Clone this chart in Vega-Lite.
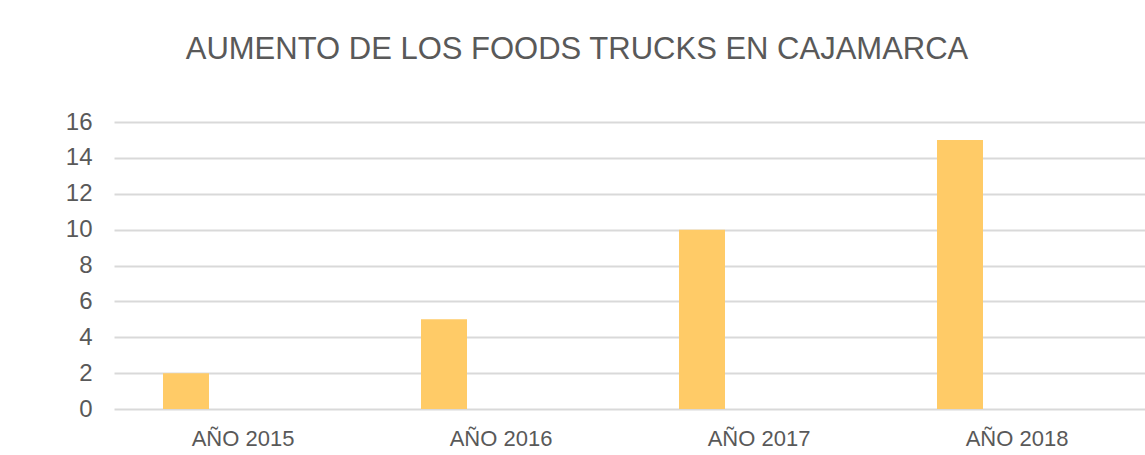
{
  "$schema": "https://vega.github.io/schema/vega-lite/v6.json",
  "width": 1032,
  "height": 287,
  "autosize": {"type": "none"},
  "padding": {"left": 114, "top": 122, "right": 0, "bottom": 46},
  "background": "white",
  "title": {
    "text": "AUMENTO DE LOS FOODS TRUCKS EN CAJAMARCA",
    "font": "Liberation Sans, Arial",
    "fontSize": 31,
    "fontWeight": "normal",
    "color": "#595959",
    "anchor": "middle",
    "dx": -53,
    "offset": 44
  },
  "data": {
    "values": [
      {"anio": "AÑO 2015", "foodtrucks": 2},
      {"anio": "AÑO 2016", "foodtrucks": 5},
      {"anio": "AÑO 2017", "foodtrucks": 10},
      {"anio": "AÑO 2018", "foodtrucks": 15}
    ]
  },
  "mark": {"type": "bar", "color": "#FFCB67", "width": 46, "xOffset": -57},
  "encoding": {
    "x": {
      "field": "anio",
      "type": "nominal",
      "sort": null,
      "scale": {"paddingInner": 0, "paddingOuter": 0},
      "axis": {
        "title": null,
        "labelAngle": 0,
        "domain": false,
        "ticks": false,
        "labelFont": "Liberation Sans, Arial",
        "labelFontSize": 22,
        "labelColor": "#595959",
        "labelPadding": 19
      }
    },
    "y": {
      "field": "foodtrucks",
      "type": "quantitative",
      "scale": {"domain": [0, 16]},
      "axis": {
        "title": null,
        "values": [0, 2, 4, 6, 8, 10, 12, 14, 16],
        "domain": false,
        "ticks": false,
        "labelFont": "Liberation Sans, Arial",
        "labelFontSize": 24,
        "labelColor": "#595959",
        "labelPadding": 22,
        "gridColor": "#D9D9D9",
        "gridWidth": 2
      }
    }
  },
  "config": {"view": {"stroke": null}}
}
